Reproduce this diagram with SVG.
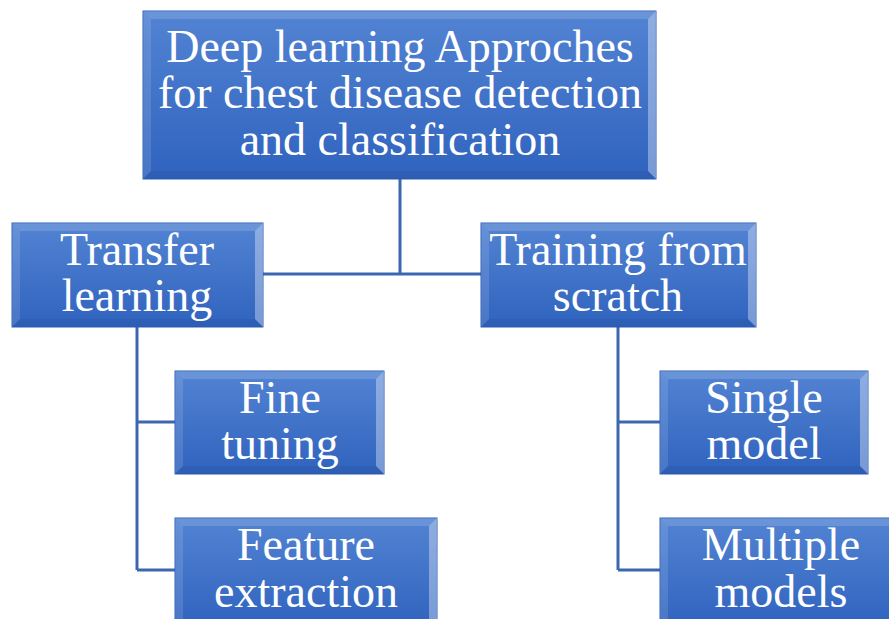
<svg xmlns="http://www.w3.org/2000/svg" width="889" height="619" viewBox="0 0 889 619">
<defs>
<linearGradient id="g" x1="0" y1="0" x2="0" y2="1">
<stop offset="0" stop-color="#5283d3"/>
<stop offset="1" stop-color="#3063be"/>
</linearGradient>
</defs>
<style>
.box{fill:url(#g);stroke:#2d5fb5;stroke-width:1}
.bt{fill:#ffffff;fill-opacity:0.15}
.bl{fill:#ffffff;fill-opacity:0.12}
.br{fill:#ffffff;fill-opacity:0.35}
.bb{fill:#000000;fill-opacity:0.05}
.t{font-family:"Liberation Serif","Times New Roman",serif;font-size:46px;fill:#ffffff;text-anchor:middle}
.c{fill:none;stroke:#3d66b0;stroke-width:3}
</style>
<g id="connectors">
<path class="c" d="M400 179V274M263 274H481"/>
<path class="c" d="M137 327V570M137 422H175M137 570H175"/>
<path class="c" d="M618 327V570M618 422H660M618 570H660"/>
</g>
<g id="root">
<rect class="box" x="143" y="11" width="513" height="168"/>
<polygon class="bt" points="143,11 656,11 648,19 151,19"/>
<polygon class="bl" points="143,11 151,19 151,171 143,179"/>
<polygon class="br" points="656,11 656,179 648,171 648,19"/>
<polygon class="bb" points="143,179 656,179 648,171 151,171"/>
<text class="t" x="400" y="62">Deep learning Approches</text>
<text class="t" x="400" y="108">for chest disease detection</text>
<text class="t" x="400" y="155">and classification</text>
</g>
<g id="transfer">
<rect class="box" x="12" y="223" width="251" height="104"/>
<polygon class="bt" points="12,223 263,223 255,231 20,231"/>
<polygon class="bl" points="12,223 20,231 20,319 12,327"/>
<polygon class="br" points="263,223 263,327 255,319 255,231"/>
<polygon class="bb" points="12,327 263,327 255,319 20,319"/>
<text class="t" x="137" y="265">Transfer</text>
<text class="t" x="137" y="311">learning</text>
</g>
<g id="scratch">
<rect class="box" x="481" y="223" width="275" height="104"/>
<polygon class="bt" points="481,223 756,223 748,231 489,231"/>
<polygon class="bl" points="481,223 489,231 489,319 481,327"/>
<polygon class="br" points="756,223 756,327 748,319 748,231"/>
<polygon class="bb" points="481,327 756,327 748,319 489,319"/>
<text class="t" x="618" y="265">Training from</text>
<text class="t" x="618" y="311">scratch</text>
</g>
<g id="finetuning">
<rect class="box" x="175" y="371" width="209" height="103"/>
<polygon class="bt" points="175,371 384,371 376,379 183,379"/>
<polygon class="bl" points="175,371 183,379 183,466 175,474"/>
<polygon class="br" points="384,371 384,474 376,466 376,379"/>
<polygon class="bb" points="175,474 384,474 376,466 183,466"/>
<text class="t" x="280" y="413">Fine</text>
<text class="t" x="280" y="459">tuning</text>
</g>
<g id="feature">
<rect class="box" x="175" y="518" width="262" height="110"/>
<polygon class="bt" points="175,518 437,518 429,526 183,526"/>
<polygon class="bl" points="175,518 183,526 183,628 175,628"/>
<polygon class="br" points="437,518 437,628 429,628 429,526"/>
<text class="t" x="306" y="560">Feature</text>
<text class="t" x="306" y="607">extraction</text>
</g>
<g id="single">
<rect class="box" x="660" y="371" width="208" height="103"/>
<polygon class="bt" points="660,371 868,371 860,379 668,379"/>
<polygon class="bl" points="660,371 668,379 668,466 660,474"/>
<polygon class="br" points="868,371 868,474 860,466 860,379"/>
<polygon class="bb" points="660,474 868,474 860,466 668,466"/>
<text class="t" x="764" y="413">Single</text>
<text class="t" x="764" y="459">model</text>
</g>
<g id="multiple">
<rect class="box" x="660" y="518" width="242" height="110"/>
<polygon class="bt" points="660,518 902,518 894,526 668,526"/>
<polygon class="bl" points="660,518 668,526 668,628 660,628"/>
<text class="t" x="781" y="560">Multiple</text>
<text class="t" x="781" y="607">models</text>
</g>
</svg>
